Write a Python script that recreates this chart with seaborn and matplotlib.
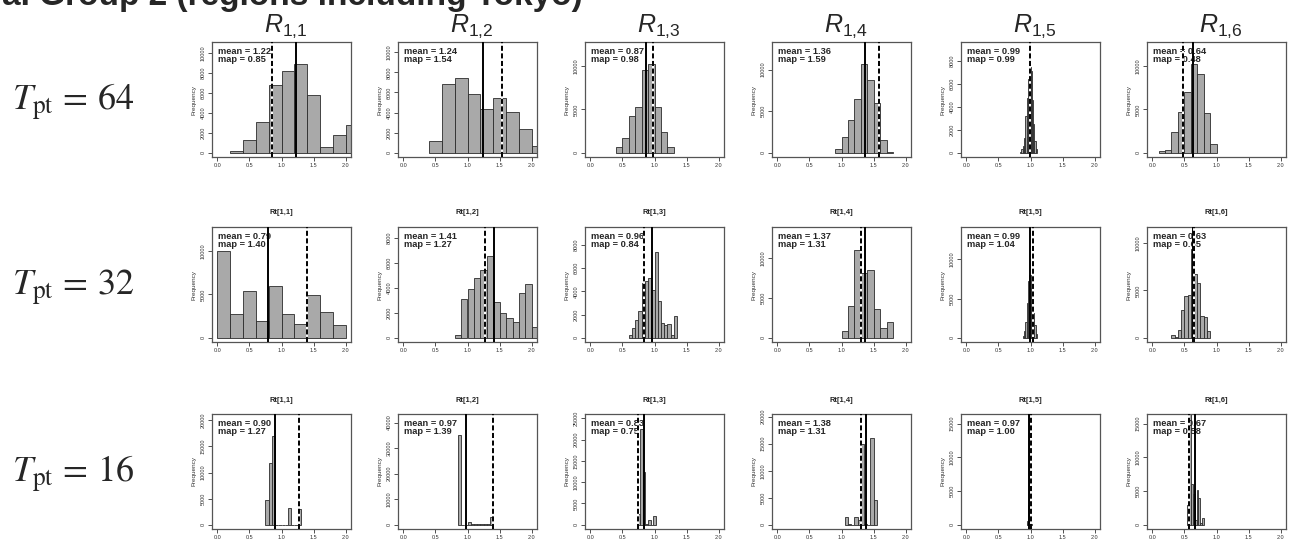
import numpy as np
import pandas as pd
import matplotlib
matplotlib.use("Agg")
import matplotlib.pyplot as plt
from matplotlib.ticker import MaxNLocator
import seaborn as sns

sns.set_theme(style="white")
plt.rcParams["font.family"] = ["Liberation Sans", "DejaVu Sans"]
plt.rcParams["mathtext.fontset"] = "custom"
plt.rcParams["mathtext.it"] = "Liberation Sans:italic"
plt.rcParams["mathtext.rm"] = "Liberation Sans"

title = "a. Group 2 (regions including Tokyo)"
regions = ["1,1", "1,2", "1,3", "1,4", "1,5", "1,6"]
tpt_labels = ["64", "32", "16"]

# T_pt = 64
start_64 = [0.2, 0.4, 0.4, 0.9, 0.84, 0.1]
width_64 = [0.2, 0.2, 0.1, 0.1, 0.02, 0.1]
counts_64 = [
    [200, 1300, 3100, 6800, 8200, 8900, 5800, 600, 1800, 2800],
    [1200, 6800, 7400, 5800, 4400, 5400, 4100, 2400, 700],
    [700, 1700, 4200, 5300, 9600, 10200, 5300, 2400, 700],
    [400, 1900, 3900, 6500, 10700, 8800, 6000, 1500, 100],
    [100, 300, 600, 1300, 3200, 4800, 6400, 7500, 7100, 4600, 2500, 1000, 300],
    [200, 300, 2400, 4700, 7000, 10200, 9100, 4600, 1000],
]
ymax_64 = [10700, 10600, 12300, 12800, 9300, 12300]
mean_64 = [1.22, 1.24, 0.87, 1.36, 0.99, 0.64]
map_64 = [0.85, 1.54, 0.98, 1.59, 0.99, 0.48]

# T_pt = 32
start_32 = [0.0, 0.8, 0.6, 1.0, 0.88, 0.3]
width_32 = [0.2, 0.1, 0.05, 0.1, 0.02, 0.05]
counts_32 = [
    [10000, 2700, 5400, 1900, 6000, 2800, 1600, 4900, 3000, 1500],
    [240, 3100, 3900, 4750, 5400, 6500, 2850, 1950, 1600, 1240, 3550, 4320, 850],
    [200, 800, 1500, 2300, 4700, 4900, 5200, 4100, 7400, 3200, 1300, 1100, 1200, 200, 1900],
    [900, 4000, 11000, 8200, 8500, 3600, 1200, 2000],
    [200, 900, 2000, 4400, 7200, 8000, 6300, 4600, 3100, 1600, 500],
    [300, 100, 800, 2900, 4400, 4500, 9400, 6700, 5800, 2300, 2200, 700],
]
ymax_32 = [12300, 8500, 9200, 13400, 13600, 11250]
mean_32 = [0.79, 1.41, 0.96, 1.37, 0.99, 0.63]
map_32 = [1.40, 1.27, 0.84, 1.31, 1.04, 0.65]

# T_pt = 16
start_16 = [0.75, 0.85, 0.74, 1.05, 0.94, 0.54]
width_16 = [0.05, 0.05, 0.04, 0.05, 0.01, 0.03]
counts_16 = [
    [4800, 11800, 17000, 0, 0, 0, 0, 3300, 0, 0, 3100],
    [35000, 0, 0, 1200, 100, 100, 100, 100, 100, 100, 3000],
    [2500, 22500, 12500, 100, 1000, 0, 2000],
    [1500, 200, 0, 1500, 800, 15000, 200, 0, 16000, 4500],
    [200, 600, 3000, 12800, 17000, 6000, 300, 100],
    [3000, 16500, 6000, 4500, 700, 5100, 4000, 300, 1000],
]
ymax_16 = [20400, 41700, 25000, 19700, 15800, 15800]
mean_16 = [0.90, 0.97, 0.83, 1.38, 0.97, 0.67]
map_16 = [1.27, 1.39, 0.75, 1.31, 1.00, 0.58]

rows = [
    (start_64, width_64, counts_64, ymax_64, mean_64, map_64),
    (start_32, width_32, counts_32, ymax_32, mean_32, map_32),
    (start_16, width_16, counts_16, ymax_16, mean_16, map_16),
]

W, H = 1292, 548
fig = plt.figure(figsize=(W / 100, H / 100), dpi=100)
fig.patch.set_facecolor("white")

lefts = [212, 398, 585, 772, 961, 1147]
tops = [42, 227, 414]
bw, bh = 139, 115
edge_col = "#555555"

for i, (starts, widths, counts, ymaxs, means, maps) in enumerate(rows):
    for j in range(6):
        ax = fig.add_axes([lefts[j] / W, 1 - (tops[i] + bh) / H, bw / W, bh / H])
        c = np.array(counts[j], dtype=float)
        edges = starts[j] + widths[j] * np.arange(len(c) + 1)
        df = pd.DataFrame({"r": edges[:-1] + widths[j] / 2, "n": c})
        sns.histplot(data=df, x="r", weights="n", bins=list(edges), ax=ax,
                     color="#a9a9a9", edgecolor="#2b2b2b", linewidth=0.6, alpha=1)
        ax.set_xlim(-0.08, 2.08)
        top = ymaxs[j]
        ax.set_xticks([0.0, 0.5, 1.0, 1.5, 2.0])
        ax.set_xticklabels(["0.0", "0.5", "1.0", "1.5", "2.0"])
        ax.yaxis.set_major_locator(MaxNLocator(nbins=6, steps=[1, 2, 5, 10]))
        ax.set_ylim(-0.04 * top, 1.04 * top)
        ax.tick_params(axis="both", labelsize=4, colors="#333333", length=3, width=0.6,
                       pad=1.5, bottom=True, left=True, direction="out")
        ax.tick_params(axis="y", labelrotation=90)
        for lab in ax.get_yticklabels():
            lab.set_va("center")
        ax.set_xlabel("")
        ax.set_ylabel("Frequency", fontsize=4.6, color="#333333", labelpad=3)
        for s in ax.spines.values():
            s.set_color(edge_col)
            s.set_linewidth(0.9)
        ax.text(0.04, 0.955, f"mean = {means[j]:.2f}\nmap = {maps[j]:.2f}",
                transform=ax.transAxes, ha="left", va="top", fontsize=6.7,
                fontweight="bold", linespacing=0.85, zorder=3)
        ax.axvline(means[j], color="black", lw=1.4, zorder=5)
        ax.axvline(maps[j], color="white", lw=1.4, zorder=5)
        ax.axvline(maps[j], color="black", lw=1.4, ls=(0, (2.6, 1.3)), zorder=6)
        if i > 0:
            ax.set_title(f"Rt[{regions[j]}]", fontsize=5.4, fontweight="bold",
                         pad=9, color="#222222")

# column headers
for j in range(6):
    sub = regions[j].replace(",", "{,}")
    fig.text((lefts[j] + bw / 2 + 4) / W, 1 - 26 / H, r"$R_{\mathrm{" + sub + "}}$",
             ha="center", va="center", fontsize=18)

# row labels
for i in range(3):
    fig.text(12 / W, 1 - (tops[i] + bh / 2 + 3) / H,
             r"$T_{\mathrm{pt}}\,=\," + tpt_labels[i] + "$",
             ha="left", va="center", fontsize=26, math_fontfamily="stix")

fig.text(2 / W, 1 - 5 / H, title, ha="left", va="baseline", fontsize=24, fontweight="bold")

fig.savefig("out.png", dpi=100)
